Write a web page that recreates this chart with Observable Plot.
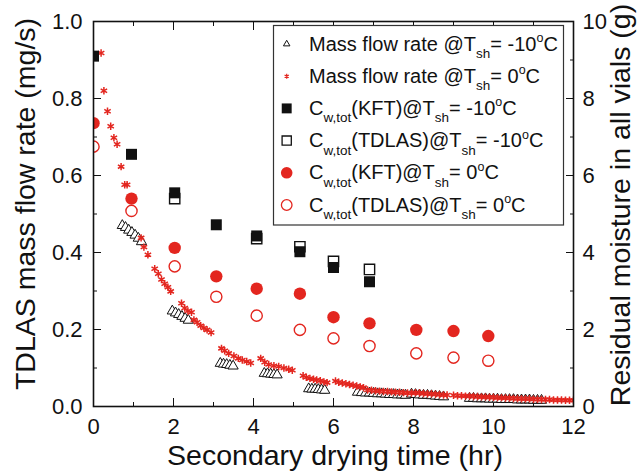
<!DOCTYPE html>
<html><head><meta charset="utf-8">
<script src="https://cdn.jsdelivr.net/npm/d3@7"></script>
<script src="https://cdn.jsdelivr.net/npm/@observablehq/plot@0.6"></script>
<style>body{margin:0;background:#fff}</style>
</head><body><div id="chart"></div>
<script>
// ---------- data ----------
// Mass flow rate @Tsh = -10 C (mg/s), triangles
const triT = [0.72,0.80,0.88,0.96,1.04,1.12,1.20,
  1.97,2.05,2.13,2.21,2.29,2.37,
  3.17,3.25,3.33,3.41,3.49,
  4.27,4.35,4.43,4.51,4.59,
  5.38,5.46,5.54,5.62,5.70,5.78,
  6.60,6.70,6.80,6.90,7.00,7.10,7.20,7.30,7.40,7.50,7.60,7.70,7.80,
  7.95,8.05,8.15,8.25,8.35,8.45,8.55,8.65,8.75,
  9.40,9.50,9.60,9.70,9.80,9.90,10.0,10.1,10.2,10.3,10.4,10.5,10.6,10.7,10.8,10.9,11.0,11.1,11.2];
const triV = [0.470,0.465,0.458,0.452,0.445,0.437,0.428,
  0.248,0.243,0.239,0.234,0.229,0.224,
  0.112,0.110,0.109,0.107,0.105,
  0.086,0.085,0.084,0.083,0.082,
  0.046,0.045,0.045,0.044,0.043,0.042,
  0.037,0.036,0.035,0.035,0.034,0.033,0.033,0.032,0.031,0.031,0.030,0.030,0.029,
  0.032,0.031,0.030,0.029,0.029,0.028,0.027,0.026,0.025,
  0.021,0.021,0.020,0.020,0.020,0.019,0.019,0.019,0.018,0.018,0.018,0.018,0.017,0.017,0.017,0.017,0.016,0.016,0.016];
// Mass flow rate @Tsh = 0 C (mg/s), asterisks
const starT = [0.19,0.26,0.35,0.43,0.51,0.59,0.69,0.78,0.84,1.19,1.26,1.36,
  1.53,1.62,1.70,1.78,1.86,1.93,
  2.20,2.28,2.36,2.45,2.51,2.59,2.68,2.76,2.84,2.94,
  3.20,3.28,3.38,3.51,3.62,3.72,3.83,3.93,
  4.18,4.28,4.38,4.51,4.63,4.76,4.88,4.97,
  5.24,5.32,5.41,5.50,5.58,5.67,5.76,5.84,
  6.05,6.13,6.22,6.31,6.40,6.49,6.58,6.67,6.75,
  6.85,6.95,7.05,7.15,7.25,7.35,7.45,7.55,7.65,7.75,7.85,7.95,
  8.05,8.15,8.25,8.35,8.45,8.55,8.65,8.75,8.84,
  9.00,9.10,9.20,9.30,9.40,9.50,9.60,9.70,9.80,9.90,10.0,10.1,10.2,10.3,10.4,10.5,10.6,10.7,10.8,10.9,11.0,11.1,11.2,11.3,11.4,11.5,11.6,11.7,11.8,11.9,12.0];
const starV = [0.918,0.820,0.767,0.728,0.698,0.681,0.623,0.576,0.576,0.438,0.414,0.394,
  0.358,0.345,0.330,0.319,0.310,0.299,
  0.268,0.256,0.248,0.245,0.225,0.219,0.210,0.204,0.199,0.192,
  0.151,0.145,0.138,0.131,0.125,0.121,0.117,0.113,
  0.125,0.115,0.109,0.106,0.104,0.100,0.097,0.094,
  0.080,0.076,0.073,0.071,0.069,0.067,0.064,0.062,
  0.066,0.063,0.061,0.059,0.057,0.055,0.053,0.051,0.049,
  0.043,0.042,0.041,0.040,0.039,0.039,0.038,0.037,0.037,0.036,0.035,0.035,
  0.036,0.035,0.034,0.033,0.033,0.032,0.031,0.030,0.030,
  0.029,0.028,0.028,0.027,0.027,0.026,0.026,0.025,0.025,0.024,0.024,0.023,0.023,0.022,0.022,0.021,0.021,0.020,0.020,0.020,0.019,0.019,0.018,0.018,0.018,0.017,0.017,0.017,0.016,0.016,0.016];
// Residual moisture in all vials (g)
const kft10T = [0, 0.95, 2.03, 3.07, 4.08, 5.16, 6.0, 6.9];
const kft10G = [9.10, 6.55, 5.55, 4.72, 4.43, 4.02, 3.61, 3.24];
const tdlas10T = [2.03, 4.08, 5.16, 6.0, 6.9];
const tdlas10G = [5.40, 4.36, 4.15, 3.77, 3.56];
const kft0T = [0, 0.95, 2.03, 3.07, 4.08, 5.16, 6.0, 6.9, 8.07, 9.0, 9.87];
const kft0G = [7.36, 5.40, 4.12, 3.38, 3.06, 2.93, 2.32, 2.16, 1.99, 1.96, 1.83];
const tdlas0T = [0, 0.95, 2.03, 3.07, 4.08, 5.16, 6.0, 6.9, 8.07, 9.0, 9.87];
const tdlas0G = [6.75, 5.08, 3.64, 2.85, 2.36, 1.99, 1.77, 1.57, 1.38, 1.27, 1.19];
// ticks
const xMajor = [0,2,4,6,8,10,12];
const xMinor = [1,3,5,7,9,11];
const yMajor = [0,0.2,0.4,0.6,0.8,1.0];
const yMinor = [0.1,0.3,0.5,0.7,0.9];
const rMajor = [0,2,4,6,8,10];
const rMinor = [1,3,5,7,9];
// labels
const xTitle = "Secondary drying time (hr)";
const yTitle = "TDLAS mass flow rate (mg/s)";
const rTitle = "Residual moisture in all vials (g)";
const legendLabels = [
  [["Mass flow rate @T"],["sh","sub"],["= -10"],["o","sup"],["C"]],
  [["Mass flow rate @T"],["sh","sub"],["= 0"],["o","sup"],["C"]],
  [["C"],["w,tot","sub"],["(KFT)@T"],["sh","sub"],["= -10"],["o","sup"],["C"]],
  [["C"],["w,tot","sub"],["(TDLAS)@T"],["sh","sub"],["= -10"],["o","sup"],["C"]],
  [["C"],["w,tot","sub"],["(KFT)@T"],["sh","sub"],["= 0"],["o","sup"],["C"]],
  [["C"],["w,tot","sub"],["(TDLAS)@T"],["sh","sub"],["= 0"],["o","sup"],["C"]]
];

const RED = "#e3261f", BLK = "#111";
const pts = (T, V) => T.map((t, i) => ({t, v: V[i]}));
const gpts = (T, G) => T.map((t, i) => ({t, v: G[i] / 10})); // right axis (g) -> shared y scale
const tri = pts(triT, triV), stars = pts(starT, starV);
const kft10 = gpts(kft10T, kft10G), tdlas10 = gpts(tdlas10T, tdlas10G);
const kft0 = gpts(kft0T, kft0G), tdlas0 = gpts(tdlas0T, tdlas0G);
const none = () => "";

const FONT = "'Liberation Sans', Arial, Helvetica, sans-serif";
const svg = Plot.plot({
  width: 638, height: 473,
  marginLeft: 93, marginRight: 65, marginTop: 21, marginBottom: 67,
  x: {domain: [0, 12]},
  y: {domain: [0, 1]},
  style: {fontFamily: FONT, fontSize: "22px", color: BLK, background: "white"},
  marks: [
    Plot.axisX({anchor: "bottom", ticks: xMajor, tickSize: -8, tickPadding: 20, tickFormat: d => d, label: null}),
    Plot.axisX({anchor: "bottom", ticks: xMinor, tickSize: -4, tickFormat: none, label: null}),
    Plot.axisX({anchor: "top", ticks: xMajor, tickSize: -8, tickFormat: none, label: null}),
    Plot.axisX({anchor: "top", ticks: xMinor, tickSize: -4, tickFormat: none, label: null}),
    Plot.axisY({anchor: "left", ticks: yMajor, tickSize: -8, tickPadding: 19, tickFormat: d3.format(".1f"), label: null}),
    Plot.axisY({anchor: "left", ticks: yMinor, tickSize: -4, tickFormat: none, label: null}),
    Plot.axisY({anchor: "right", ticks: rMajor.map(g => g / 10), tickSize: -8, tickPadding: 17, tickFormat: d => Math.round(d * 10), label: null}),
    Plot.axisY({anchor: "right", ticks: rMinor.map(g => g / 10), tickSize: -4, tickFormat: none, label: null}),
    Plot.dot(tri, {x: "t", y: "v", symbol: "triangle", r: 3.8, stroke: BLK, fill: "white", strokeWidth: 1, clip: true}),
    Plot.dot(stars, {x: "t", y: "v", symbol: "asterisk", r: 3.5, stroke: RED, strokeWidth: 1.5, clip: true}),
    Plot.dot(tdlas10, {x: "t", y: "v", symbol: "square", r: 5.8, stroke: BLK, fill: "white", strokeWidth: 1.4, clip: true}),
    Plot.dot(kft10, {x: "t", y: "v", symbol: "square", r: 6.2, fill: BLK, clip: true}),
    Plot.dot(kft0, {x: "t", y: "v", symbol: "circle", r: 6.2, fill: RED, clip: true}),
    Plot.dot(tdlas0, {x: "t", y: "v", symbol: "circle", r: 5.6, stroke: RED, fill: "none", strokeWidth: 1.4, clip: true}),
    Plot.frame({stroke: BLK, strokeWidth: 1.6})
  ]
});
document.getElementById("chart").appendChild(svg);

const s = d3.select(svg);
// axis titles
s.append("text").attr("transform", "translate(35,204) rotate(-90)").attr("text-anchor", "middle")
  .attr("font-family", FONT).attr("font-size", 28.5).attr("fill", BLK).text(yTitle);
s.append("text").attr("transform", "translate(630,205) rotate(-90)").attr("text-anchor", "middle")
  .attr("font-family", FONT).attr("font-size", 28.5).attr("fill", BLK).text(rTitle);
s.append("text").attr("x", 335).attr("y", 465).attr("text-anchor", "middle")
  .attr("font-family", FONT).attr("font-size", 28.5).attr("fill", BLK).text(xTitle);

// legend
const lg = s.append("g").attr("text-anchor", "start");
lg.append("rect").attr("x", 273.5).attr("y", 25.5).attr("width", 290).attr("height", 199.5)
  .attr("fill", "white").attr("stroke", "#333").attr("stroke-width", 1.2);
const symX = 286.7, textX = 309;
const legendSyms = [
  {type: d3.symbolTriangle, r: 2.4, fill: "white", stroke: BLK, sw: 1},
  {type: d3.symbolAsterisk, r: 2.3, fill: "none", stroke: RED, sw: 1.2},
  {type: d3.symbolSquare, r: 5.6, fill: BLK, stroke: "none", sw: 0},
  {type: d3.symbolSquare, r: 5.2, fill: "white", stroke: BLK, sw: 1.3},
  {type: d3.symbolCircle, r: 5.8, fill: RED, stroke: "none", sw: 0},
  {type: d3.symbolCircle, r: 5.3, fill: "none", stroke: RED, sw: 1.3}
];
legendLabels.forEach((parts, i) => {
  const cy = 44 + i * 32.2;
  const sym = legendSyms[i];
  lg.append("path").attr("transform", `translate(${symX},${cy})`)
    .attr("d", d3.symbol(sym.type, Math.PI * sym.r * sym.r)())
    .attr("fill", sym.fill).attr("stroke", sym.stroke).attr("stroke-width", sym.sw);
  const t = lg.append("text").attr("x", textX).attr("y", cy + 6.5).attr("text-anchor", "start")
    .attr("font-family", FONT).attr("font-size", 20).attr("fill", BLK);
  let shift = 0;
  for (const [str, kind] of parts) {
    const target = kind === "sub" ? 7.5 : kind === "sup" ? -8.5 : 0;
    t.append("tspan").attr("dy", target - shift)
      .attr("font-size", kind === "sub" ? 13.5 : kind === "sup" ? 12.5 : 20).text(str);
    shift = target;
  }
});
</script></body></html>
